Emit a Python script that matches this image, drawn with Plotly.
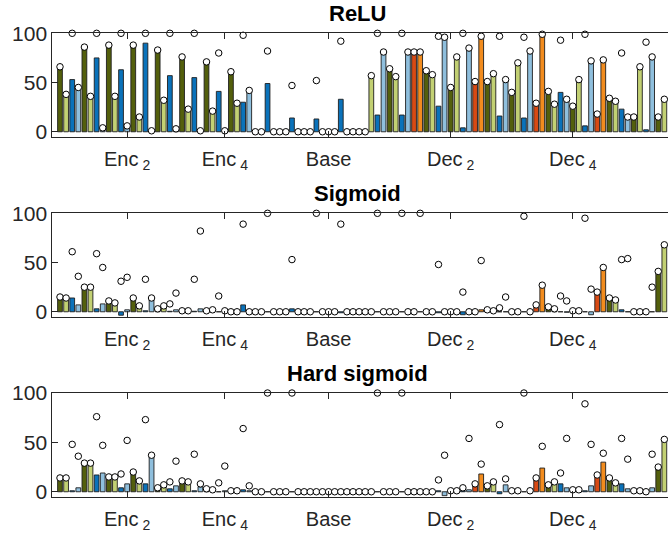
import plotly.graph_objects as go

# ---------------- data ----------------
idx = list(range(1, 101))

kind = (
    ["DO", "LO", "B", "LB"] * 8                      # Enc1..Enc4
    + ["DO", "LO", "B", "LB"] * 4 + ["DO", "LO"]     # Base
    + (["DO", "LO", "B", "LB"] * 2 + ["R", "O"]) * 4  # Dec1..Dec4
    + ["DO", "LO", "B", "LB"] * 2 + ["DO", "LO"]      # output
)

tick_pos = [12, 28, 45, 65, 85]
tick_text = ["Enc\u2009<sub>2</sub>", "Enc\u2009<sub>4</sub>", "Base",
             "Dec\u2009<sub>2</sub>", "Dec\u2009<sub>4</sub>"]

relu_bar = [66, 38, 53, 45, 86, 36, 75, 4, 88, 36, 63, 6, 88, 15, 90, 0, 83, 32, 57, 3,
            76, 23, 55, 0, 71, 21, 41, 0, 61, 29, 30, 42, 0, 0, 49, 0, 0, 0, 14, 0,
            0, 0, 13, 0, 0, 0, 33, 0, 0, 0, 0, 57, 17, 81, 64, 56, 17, 81, 81, 81,
            62, 58, 26, 96, 45, 76, 4, 85, 51, 97, 51, 59, 16, 53, 40, 70, 14, 82, 29, 99,
            41, 28, 40, 33, 26, 53, 6, 72, 18, 73, 34, 31, 23, 15, 15, 66, 2, 76, 15, 33]
relu_dot = [66, 38, 100, 45, 86, 36, 100, 4, 88, 36, 100, 6, 88, 15, 100, 1, 83, 32, 100, 3,
            76, 23, 100, 1, 71, 21, 80, 1, 61, 29, 98, 42, 0, 0, 82, 0, 0, 0, 47, 0,
            0, 0, 52, 0, 0, 0, 92, 0, 0, 0, 0, 57, 100, 81, 64, 56, 100, 81, 81, 81,
            62, 58, 97, 96, 45, 76, 100, 85, 51, 97, 51, 59, 97, 53, 40, 70, 96, 82, 29, 99,
            41, 28, 93, 33, 26, 53, 99, 72, 18, 73, 34, 31, 80, 15, 15, 66, 91, 76, 15, 33]

sig_bar = [15, 14, 14, 7, 25, 25, 3, 8, 11, 9, -3.5, 2, 14, 6, 1, 14, 3, 6, 0.5, 2,
           0, 0, 0.5, 3, 0, 0, 0, 0.5, 0, 0, 7, 0, 0, 0, 0, 0, 0, 0, 3, 0,
           0, 0, 0, 0, 0, 0, -1, 0, 0, 0, 0, 0, 0, 0, 0, 0, 0, 0, 0, 0,
           0, 0, -1, 0, 0, 0, -3, 0, 0, 2, 2, 1, 0, 0, 0, 0, 0, 0, 7, 27,
           5, 3, 0, -0.5, 0, 0, 0, -3, 20, 45, 14, 12, 2, 0, 0, 0, 0, 0, 41, 68]
sig_dot = [15, 14, 61, 36, 25, 25, 59, 45, 11, 9, 31, 35, 14, 6, 33, 14, 3, 6, 8, 19,
           1, 1, 33, 82, 1, 2, 16, 1, 0, 0, 89, 0, 0, 0, 100, 0, 0, 0, 53, 0,
           0, 0, 100, 0, 0, 0, 89, 0, 0, 0, 0, 0, 100, 0, 0, 0, 100, 0, 0, 100,
           0, 0, 48, 0, 0, 0, 20, 0, 0, 52, 2, 1, 4, 15, 0, 0, 97, 0, 7, 27,
           5, 3, 16, 11, 1, 1, 95, 23, 20, 45, 14, 12, 53, 54, 0, 0, 0, 25, 41, 68]

hs_bar = [14, 14, 1, 4, 29, 29, 17, 19, 15, 15, 4, 8, 20, 11, 8, 37, 4, 7, 3, 6,
          11, 10, 1, 5, 3, 1, 0, 1, 0, 0, 2, 1, 0, 0, 0, 0, 0, 0, 0, 0,
          0, 0, 0, 0, 0, 0, 0, 0, 0, 0, 0, 0, 0, 0, 0, 0, 0, 0, 0, 0,
          0, 0, 1, -4, 0, 0, 1, 2, 8, 18, 6, 10, -2, 7, 0, 0, 0, 0, 14, 24,
          7, 10, 8, 4, 0, 0, 1, 6, 17, 30, 14, 9, 8, 3, 0, 0, 0, 4, 25, 53]
hs_dot = [14, 14, 48, 36, 29, 29, 76, 47, 15, 15, 18, 52, 20, 11, 73, 37, 4, 7, 10, 31,
          11, 10, 38, 8, 3, 2, 9, 26, 1, 1, 64, 6, 0, 0, 100, 0, 0, 0, 100, 0,
          0, 0, 0, 0, 0, 0, 0, 0, 0, 0, 0, 0, 100, 0, 0, 0, 100, 0, 0, 0,
          0, 0, 12, 37, 1, 1, 4, 54, 8, 28, 6, 10, 68, 13, 1, 1, 100, 1, 14, 46,
          7, 10, 19, 54, 2, 2, 89, 48, 17, 39, 14, 9, 54, 33, 1, 1, 0, 38, 25, 53]

titles = ["ReLU", "Sigmoid", "Hard sigmoid"]

# ---------------- style ----------------
COLORS = {"DO": "#535f0c", "LO": "#c2d073", "B": "#0a72ba", "LB": "#8fbfdd",
          "R": "#d84a14", "O": "#f28c1e"}
W, H = 668, 537
LEFT = 52.3
TOPS = [33.3, 213.3, 393.0]
BOTS = [136.7, 316.7, 496.7]
FONT = "Liberation Sans, Arial, Helvetica, sans-serif"
AX = "#262626"

fig = go.Figure()
panels = [(relu_bar, relu_dot), (sig_bar, sig_dot), (hs_bar, hs_dot)]
bar_colors = [COLORS[k] for k in kind]

for i, (bars, dots) in enumerate(panels):
    sfx = "" if i == 0 else str(i + 1)
    fig.add_trace(go.Bar(
        x=idx, y=bars, width=0.78,
        marker=dict(color=bar_colors, line=dict(color="#1e1e1e", width=0.9)),
        xaxis="x" + sfx, yaxis="y" + sfx, showlegend=False, hoverinfo="skip"))
    fig.add_trace(go.Scatter(
        x=idx, y=dots, mode="markers", cliponaxis=False,
        marker=dict(symbol="circle", size=6.5, color="white",
                    line=dict(color="black", width=1)),
        xaxis="x" + sfx, yaxis="y" + sfx, showlegend=False, hoverinfo="skip"))

    xa = dict(domain=[LEFT / W, 1.0], range=[-0.26, 100.6], anchor="y" + sfx,
              tickmode="array", tickvals=tick_pos, ticktext=tick_text,
              ticks="inside", ticklen=6, tickwidth=1, tickcolor=AX,
              showline=True, linecolor=AX, linewidth=1, mirror="ticks",
              showgrid=False, zeroline=False, automargin=False,
              ticklabelstandoff=4,
              tickfont=dict(family=FONT, size=20, color=AX))
    ya = dict(domain=[1 - BOTS[i] / H, 1 - TOPS[i] / H], range=[-5, 100],
              anchor="x" + sfx, tickmode="array", tickvals=[0, 50, 100],
              ticks="inside", ticklen=6, tickwidth=1, tickcolor=AX,
              showline=True, linecolor=AX, linewidth=1, mirror=False,
              showgrid=False, zeroline=False, automargin=False,
              tickfont=dict(family=FONT, size=21, color=AX))
    fig.layout["xaxis" + sfx] = xa
    fig.layout["yaxis" + sfx] = ya

    fig.add_annotation(text="<b>%s</b>" % titles[i], xref="paper", yref="paper",
                       x=358 / W, y=1 - (TOPS[i] - 19.5) / H, xanchor="center",
                       yanchor="middle", showarrow=False,
                       font=dict(family=FONT, size=22, color="black"))

fig.update_layout(width=W, height=H, margin=dict(l=0, r=0, t=0, b=0, autoexpand=False),
                  paper_bgcolor="white", plot_bgcolor="white", barmode="overlay",
                  font=dict(family=FONT))
fig.write_html("out.html")
